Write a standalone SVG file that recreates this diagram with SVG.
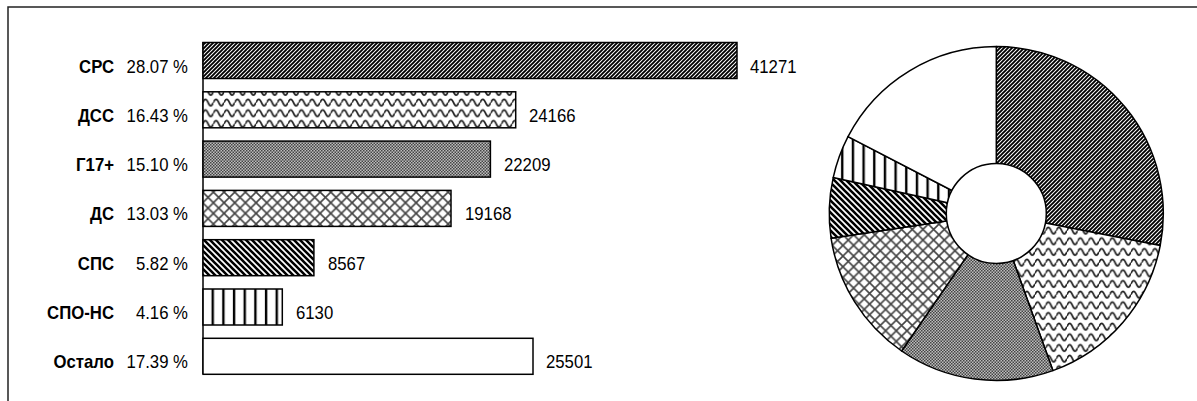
<svg xmlns="http://www.w3.org/2000/svg" width="1197" height="401" viewBox="0 0 1197 401">
<style>
.lbl{font-family:"Liberation Sans",Arial,sans-serif;font-size:18px;fill:#000}
.b{font-weight:bold;text-anchor:end}
.p{text-anchor:end}
.v{text-anchor:start}
.bar{stroke:#000;stroke-width:1.5}
.sl{stroke:#000;stroke-width:1.5;stroke-linejoin:round}
</style>
<defs>
<pattern id="pUp" patternUnits="userSpaceOnUse" width="4" height="4">
<rect width="4" height="4" fill="#fff"/>
<path d="M-1,1 L1,-1 M0,4 L4,0 M3,5 L5,3" stroke="#000" stroke-width="1.9"/>
</pattern>
<pattern id="pWave" patternUnits="userSpaceOnUse" width="10.67" height="10.67">
<rect width="10.67" height="10.67" fill="#fff"/>
<path d="M0,6.5 Q2.67,0 5.33,6.5 T10.67,6.5" fill="none" stroke="#222" stroke-width="1.7"/>
</pattern>
<pattern id="pDots" patternUnits="userSpaceOnUse" width="3" height="3">
<rect width="3" height="3" fill="#bdbdbd"/>
<rect width="1.5" height="1.5" fill="#444"/>
<rect x="1.5" y="1.5" width="1.5" height="1.5" fill="#444"/>
</pattern>
<pattern id="pCross" patternUnits="userSpaceOnUse" width="10.67" height="10.67">
<rect width="10.67" height="10.67" fill="#fff"/>
<path d="M0,0 L10.67,10.67 M10.67,0 L0,10.67" stroke="#444" stroke-width="1.6"/>
</pattern>
<pattern id="pDown" patternUnits="userSpaceOnUse" width="6" height="6">
<rect width="6" height="6" fill="#fff"/>
<path d="M-1,5 L1,7 M0,0 L6,6 M5,-1 L7,1" stroke="#000" stroke-width="2.6"/>
</pattern>
<pattern id="pVert" patternUnits="userSpaceOnUse" x="5" width="10.67" height="10.67">
<rect width="10.67" height="10.67" fill="#fff"/>
<path d="M5,0 L5,10.67" stroke="#000" stroke-width="2.4"/>
</pattern>
</defs>
<rect width="1197" height="401" fill="#fff"/>
<g id="frame" fill="none" stroke="#222" stroke-width="1.5">
<path d="M8,401 L8,7 L1197,7"/>
</g>
<g id="axis">
<line x1="203" y1="42" x2="203" y2="374" stroke="#000" stroke-width="1.5"/>
</g>
<g id="bar-srs">
<rect class="bar" x="203" y="42.5" width="534" height="36" fill="url(#pUp)"/>
<text class="lbl b" transform="translate(114,72.5) scale(0.93,1)">СРС</text>
<text class="lbl p" transform="translate(188,72.5) scale(0.93,1)">28.07 %</text>
<text class="lbl v" transform="translate(750,72.5) scale(0.93,1)">41271</text>
</g>
<g id="bar-dss">
<rect class="bar" x="203" y="91.8" width="312.7" height="36" fill="url(#pWave)"/>
<text class="lbl b" transform="translate(114,121.8) scale(0.93,1)">ДСС</text>
<text class="lbl p" transform="translate(188,121.8) scale(0.93,1)">16.43 %</text>
<text class="lbl v" transform="translate(529,121.8) scale(0.93,1)">24166</text>
</g>
<g id="bar-g17">
<rect class="bar" x="203" y="141.1" width="287.4" height="36" fill="url(#pDots)"/>
<text class="lbl b" transform="translate(114,171.1) scale(0.93,1)">Г17+</text>
<text class="lbl p" transform="translate(188,171.1) scale(0.93,1)">15.10 %</text>
<text class="lbl v" transform="translate(504,171.1) scale(0.93,1)">22209</text>
</g>
<g id="bar-ds">
<rect class="bar" x="203" y="190.4" width="248" height="36" fill="url(#pCross)"/>
<text class="lbl b" transform="translate(114,220.4) scale(0.93,1)">ДС</text>
<text class="lbl p" transform="translate(188,220.4) scale(0.93,1)">13.03 %</text>
<text class="lbl v" transform="translate(465,220.4) scale(0.93,1)">19168</text>
</g>
<g id="bar-sps">
<rect class="bar" x="203" y="239.7" width="110.9" height="36" fill="url(#pDown)"/>
<text class="lbl b" transform="translate(114,269.7) scale(0.93,1)">СПС</text>
<text class="lbl p" transform="translate(188,269.7) scale(0.93,1)">5.82 %</text>
<text class="lbl v" transform="translate(328,269.7) scale(0.93,1)">8567</text>
</g>
<g id="bar-spons">
<rect class="bar" x="203" y="289" width="79.3" height="36" fill="url(#pVert)"/>
<text class="lbl b" transform="translate(114,319) scale(0.93,1)">СПО-НС</text>
<text class="lbl p" transform="translate(188,319) scale(0.93,1)">4.16 %</text>
<text class="lbl v" transform="translate(296,319) scale(0.93,1)">6130</text>
</g>
<g id="bar-ostalo">
<rect class="bar" x="203" y="338.3" width="330" height="36" fill="#fff"/>
<text class="lbl b" transform="translate(114,368.3) scale(0.93,1)">Остало</text>
<text class="lbl p" transform="translate(188,368.3) scale(0.93,1)">17.39 %</text>
<text class="lbl v" transform="translate(546,368.3) scale(0.93,1)">25501</text>
</g>
<g id="pie">
<path class="sl" fill="url(#pUp)" d="M996.3,213.5 L996.3,46.5 A167,167 0 0 1 1160.2,245.5 Z"/>
<path class="sl" fill="url(#pWave)" d="M996.3,213.5 L1160.2,245.5 A167,167 0 0 1 1052.9,370.6 Z"/>
<path class="sl" fill="url(#pDots)" d="M996.3,213.5 L1052.9,370.6 A167,167 0 0 1 901.6,351.0 Z"/>
<path class="sl" fill="url(#pCross)" d="M996.3,213.5 L901.6,351.0 A167,167 0 0 1 831.1,238.3 Z"/>
<path class="sl" fill="url(#pDown)" d="M996.3,213.5 L831.1,238.3 A167,167 0 0 1 833.2,177.6 Z"/>
<path class="sl" fill="url(#pVert)" d="M996.3,213.5 L833.2,177.6 A167,167 0 0 1 848.0,136.6 Z"/>
<path class="sl" fill="#fff" d="M996.3,213.5 L848.0,136.6 A167,167 0 0 1 996.3,46.5 Z"/>
<circle cx="996.3" cy="213.5" r="50" fill="#fff" stroke="#000" stroke-width="1.5"/>
</g>
</svg>
